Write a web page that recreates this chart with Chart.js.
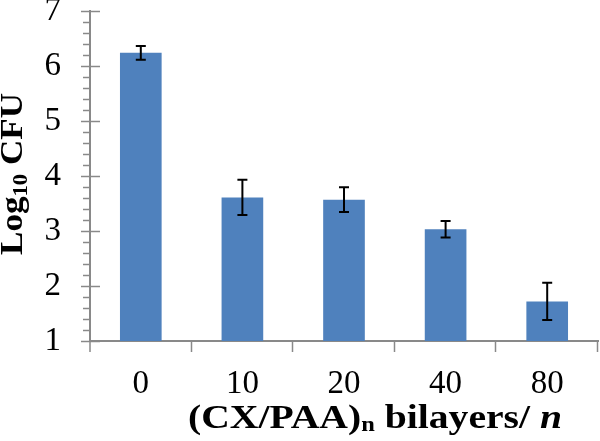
<!DOCTYPE html>
<html>
<head>
<meta charset="utf-8">
<script src="https://cdn.jsdelivr.net/npm/chart.js@4"></script>
<style>
  html, body { margin: 0; padding: 0; background: #ffffff; }
  #wrap { width: 600px; height: 441px; }
</style>
</head>
<body>
<div id="wrap"><canvas id="c" width="600" height="441"></canvas></div>
<script>
// ---- data ----
const categories = ['0', '10', '20', '40', '80'];
const log10CFU = [6.24, 3.61, 3.57, 3.03, 1.72];
const errorBars = [0.125, 0.32, 0.225, 0.15, 0.34];
const yTickMin = 1;
const yTickMax = 7;
const yTickStep = 1;
const yMinorStep = 0.2;

const AXIS_COLOR = '#898989';
const BAR_COLOR = '#4F81BD';
const SERIF = '"Liberation Serif", "Times New Roman", serif';

// draw axes ticks (major crossing, minor outside) through scales
const axisTicksPlugin = {
  id: 'axisTicks',
  afterDatasetsDraw(chart) {
    const { ctx, scales: { x, y } } = chart;
    ctx.save();
    ctx.strokeStyle = AXIS_COLOR;
    ctx.lineWidth = 1.5;
    const ax = x.left;
    for (let v = yTickMin; v <= yTickMax + 1e-9; v += yMinorStep) {
      const py = Math.round(y.getPixelForValue(v)) + 0.5;
      const isMajor = Math.abs(v - Math.round(v)) < 1e-6;
      ctx.beginPath();
      if (isMajor) { ctx.moveTo(ax - 9, py); ctx.lineTo(ax + 10, py); }
      else { ctx.moveTo(ax - 7, py); ctx.lineTo(ax, py); }
      ctx.stroke();
    }
    const n = categories.length;
    const bounds = [];
    for (let i = 0; i <= n; i++) {
      let px;
      if (i === 0) px = x.left;
      else if (i === n) px = x.right;
      else px = (x.getPixelForValue(i - 1) + x.getPixelForValue(i)) / 2;
      bounds.push(px);
    }
    const by = y.bottom;
    bounds.forEach((px, i) => {
      const rx = i === 0 ? px : Math.round(px) - 0.5;
      ctx.beginPath(); ctx.moveTo(rx, by); ctx.lineTo(rx, by + 11); ctx.stroke();
    });
    ctx.restore();
  }
};

// error bars drawn through the y scale
const errorBarPlugin = {
  id: 'errorBars',
  afterDatasetsDraw(chart) {
    const { ctx, scales: { y } } = chart;
    const meta = chart.getDatasetMeta(0);
    ctx.save();
    ctx.strokeStyle = '#000000';
    ctx.lineWidth = 2;
    meta.data.forEach((bar, i) => {
      const cx = bar.x;
      const top = y.getPixelForValue(log10CFU[i] + errorBars[i]);
      const bot = y.getPixelForValue(log10CFU[i] - errorBars[i]);
      const cap = 5;
      ctx.beginPath();
      ctx.moveTo(cx, top); ctx.lineTo(cx, bot);
      ctx.moveTo(cx - cap, top); ctx.lineTo(cx + cap, top);
      ctx.moveTo(cx - cap, bot); ctx.lineTo(cx + cap, bot);
      ctx.stroke();
    });
    ctx.restore();
  }
};

function measureRuns(ctx, runs) {
  let w = 0;
  runs.forEach(r => { ctx.font = r.font; r.w = ctx.measureText(r.text).width; w += r.w; });
  return w;
}

// axis titles with subscripts
const titlesPlugin = {
  id: 'titles',
  afterDraw(chart) {
    const { ctx, scales: { y } } = chart;
    ctx.save();
    ctx.fillStyle = '#000000';
    ctx.textBaseline = 'alphabetic';
    ctx.textAlign = 'left';

    const xr = [
      { text: '(CX/PAA)', font: 'bold 34px ' + SERIF, dy: 0 },
      { text: 'n', font: 'bold 21px ' + SERIF, dy: 3 },
      { text: ' bilayers/ ', font: 'bold 34px ' + SERIF, dy: 0 },
      { text: 'n', font: 'italic bold 34px ' + SERIF, dy: 0 }
    ];
    const xw = measureRuns(ctx, xr);
    const targetX = 374;
    const cxT = 375, baseY = 428;
    ctx.save();
    ctx.translate(cxT - targetX / 2, baseY);
    ctx.scale(targetX / xw, 1);
    let px = 0;
    xr.forEach(r => { ctx.font = r.font; ctx.fillText(r.text, px, r.dy); px += r.w; });
    ctx.restore();

    const yr = [
      { text: 'Log', font: 'bold 31px ' + SERIF, dy: 0 },
      { text: '10', font: 'bold 20px ' + SERIF, dy: 5 },
      { text: ' CFU', font: 'bold 31px ' + SERIF, dy: 0 }
    ];
    const yw = measureRuns(ctx, yr);
    const targetY = 162;
    const cyT = (y.top + y.bottom) / 2 - 2;
    ctx.save();
    ctx.translate(22, cyT + targetY / 2);
    ctx.rotate(-Math.PI / 2);
    ctx.scale(targetY / yw, 1);
    px = 0;
    yr.forEach(r => { ctx.font = r.font; ctx.fillText(r.text, px, r.dy); px += r.w; });
    ctx.restore();

    ctx.restore();
  }
};

new Chart(document.getElementById('c'), {
  type: 'bar',
  data: {
    labels: categories,
    datasets: [{
      data: log10CFU,
      backgroundColor: BAR_COLOR,
      borderWidth: 0,
      categoryPercentage: 1.0,
      barPercentage: 0.41
    }]
  },
  options: {
    responsive: false,
    animation: false,
    devicePixelRatio: 1,
    layout: { padding: { top: 11, right: 2, left: 0, bottom: 0 } },
    plugins: { legend: { display: false }, tooltip: { enabled: false }, title: { display: false } },
    scales: {
      x: {
        type: 'category',
        offset: true,
        grid: { display: false, drawTicks: false },
        border: { display: true, color: AXIS_COLOR, width: 2 },
        ticks: { color: '#000', font: { family: SERIF, size: 33 }, padding: 24, maxRotation: 0 },
        afterFit(s) { s.height = 100; s.paddingLeft = 0; s.paddingRight = 0; }
      },
      y: {
        min: yTickMin,
        max: yTickMax,
        grid: { display: false, drawTicks: false },
        border: { display: true, color: AXIS_COLOR, width: 2 },
        ticks: { stepSize: yTickStep, color: '#000', font: { family: SERIF, size: 33 }, padding: 29 },
        afterFit(s) { s.width = 90; s.paddingTop = 0; s.paddingBottom = 0; }
      }
    }
  },
  plugins: [axisTicksPlugin, errorBarPlugin, titlesPlugin]
});
</script>
</body>
</html>
